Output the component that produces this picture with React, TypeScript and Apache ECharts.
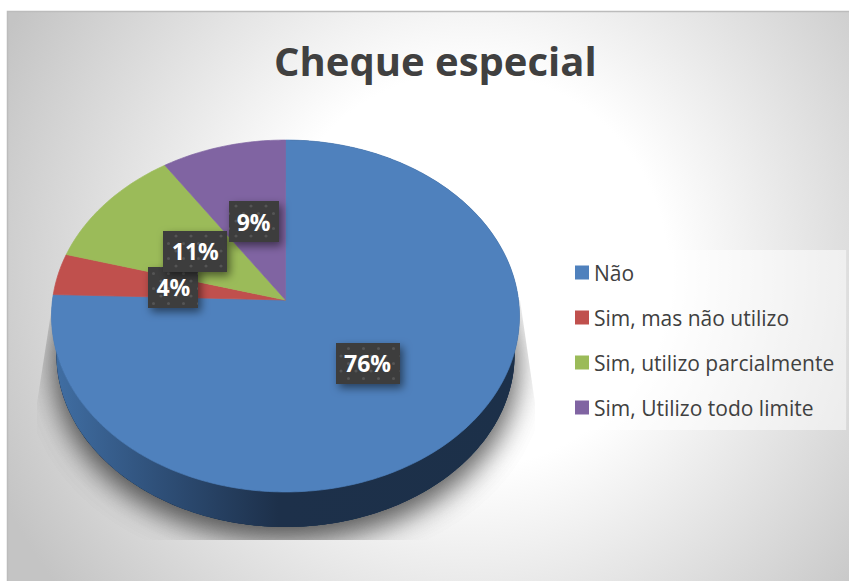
import React, { useEffect, useRef } from "react";
import * as echarts from "echarts";

const titleText = "Cheque especial";
const categories = ["Não", "Sim, mas não utilizo", "Sim, utilizo parcialmente", "Sim, Utilizo todo limite"];
const sliceValues = [75.5, 3.8, 11.3, 9.4];
const sliceColors = ["#4f81bd", "#c0504d", "#9bbb59", "#8064a2"];

const W = 849;
const H = 581;
const CX = 285.5;
const APEX_Y = 300;
const RX = 233;
const KY = 174.5;
const P = 0.0909;
const LOWER_SCALE = 0.979;
const LOWER_DROP = 39;
const LABEL_F = 0.49;

const total = sliceValues.reduce((a, b) => a + b, 0);

function project(theta: number, f = 1, scale = 1, drop = 0): number[] {
  const u = Math.sin(theta) * f;
  const v = -Math.cos(theta) * f;
  const d = 1 - P * v;
  return [CX + (scale * RX * u) / d, APEX_Y + drop + (scale * KY * v) / d];
}

function arcPoints(a0: number, a1: number, scale = 1, drop = 0): number[][] {
  const n = Math.max(2, Math.ceil(((a1 - a0) * 180) / Math.PI));
  const pts: number[][] = [];
  for (let k = 0; k <= n; k++) pts.push(project(a0 + ((a1 - a0) * k) / n, 1, scale, drop));
  return pts;
}

function makeDots(): HTMLCanvasElement {
  const c = document.createElement("canvas");
  c.width = 15;
  c.height = 15;
  const g = c.getContext("2d")!;
  g.fillStyle = "#3c3c3c";
  g.fillRect(0, 0, 15, 15);
  g.fillStyle = "#545454";
  for (const [x, y] of [[3.5, 3.5], [11, 11]]) {
    g.beginPath();
    g.arc(x, y, 1.6, 0, Math.PI * 2);
    g.fill();
  }
  return c;
}

export default function App() {
  const ref = useRef<HTMLDivElement>(null);
  useEffect(() => {
    document.body.style.margin = "0";
    const chart = echarts.init(ref.current!, undefined, { renderer: "svg" });
    const dots = makeDots();

    const series = categories.map((name, i) => {
      const before = sliceValues.slice(0, i).reduce((a, b) => a + b, 0);
      return {
        type: "custom",
        name,
        coordinateSystem: "none",
        itemStyle: { color: sliceColors[i] },
        silent: true,
        data: [[sliceValues[i]]],
        renderItem: (_p: any, api: any) => {
          const value = api.value(0) as number;
          const a0 = (before / total) * Math.PI * 2;
          const a1 = ((before + value) / total) * Math.PI * 2;
          const mid = (a0 + a1) / 2;
          const children: any[] = [];
          if (i === 0) {
            // Soft cast shadow and the visible wall: only the first slice faces the viewer.
            children.push({
              type: "group",
              clipPath: {
                type: "polygon",
                shape: { points: [[53, 300], [37, 403], [37, 540], [535, 540], [535, 403], [520, 300]] },
              },
              children: [
                {
                  type: "polygon",
                  shape: { points: arcPoints(0, Math.PI * 2, LOWER_SCALE, LOWER_DROP) },
                  style: {
                    fill: "#1c3049",
                    shadowColor: "rgba(0,0,0,0.42)",
                    shadowBlur: 30,
                    shadowOffsetX: 0,
                    shadowOffsetY: 11,
                  },
                },
                {
                  type: "polygon",
                  shape: { points: arcPoints(0, Math.PI * 2, LOWER_SCALE, LOWER_DROP) },
                  style: {
                    fill: "#1c3049",
                    shadowColor: "rgba(0,0,0,0.42)",
                    shadowBlur: 30,
                    shadowOffsetX: 0,
                    shadowOffsetY: 11,
                  },
                },
              ],
            });
            children.push({
              type: "polygon",
              z2: 1,
              shape: {
                points: arcPoints(a0, a1).concat(arcPoints(a0, a1, LOWER_SCALE, LOWER_DROP).reverse()),
              },
              style: {
                fill: new echarts.graphic.LinearGradient(
                  55, 0, 520, 0,
                  [
                    { offset: 0, color: "#406ea3" },
                    { offset: 0.22, color: "#2f5079" },
                    { offset: 0.48, color: "#1d304a" },
                    { offset: 1, color: "#1c3049" },
                  ],
                  true
                ),
              },
            });
          }
          children.push({
            type: "polygon",
            z2: 2,
            shape: { points: [[CX, APEX_Y], ...arcPoints(a0, a1)] },
            style: { fill: sliceColors[i], stroke: sliceColors[i], lineWidth: 0.7 },
          });
          const label = `${Math.round((value / total) * 100)}%`;
          const [lx, ly] = project(mid, LABEL_F);
          const bw = 22 + 14 * label.length;
          const bh = 41;
          children.push({
            type: "rect",
            z2: 100 + i,
            shape: { x: Math.round(lx - bw / 2), y: Math.round(ly - bh / 2), width: bw, height: bh },
            style: {
              fill: { image: dots, repeat: "repeat" },
              shadowColor: "rgba(0,0,0,0.5)",
              shadowBlur: 9,
              shadowOffsetX: 3,
              shadowOffsetY: 4,
            },
          });
          children.push({
            type: "text",
            z2: 200,
            style: {
              text: label,
              x: lx,
              y: ly,
              align: "center",
              verticalAlign: "middle",
              fill: "#ffffff",
              font: 'bold 23px "Open Sans"',
            },
          });
          return { type: "group", children };
        },
      };
    });

    chart.setOption({
      animation: false,
      title: {
        text: titleText,
        left: 274,
        top: 40,
        padding: 0,
        textStyle: { fontFamily: "Open Sans", fontWeight: "bold", fontSize: 40, color: "#404040" },
      },
      legend: {
        orient: "vertical",
        left: 563,
        top: 250,
        padding: [12, 12, 12, 12],
        itemWidth: 14,
        itemHeight: 14,
        itemGap: 24,
        icon: "rect",
        backgroundColor: "rgba(255,255,255,0.5)",
        data: categories,
        selectedMode: false,
        textStyle: { fontFamily: "Open Sans", fontSize: 21, color: "#404040", padding: [0, 0, 0, 0], lineHeight: 14 },
      },
      graphic: [
        {
          type: "rect",
          z: -10,
          silent: true,
          shape: { x: 7, y: 11, width: W - 7, height: H - 11 },
          style: {
            fill: new echarts.graphic.RadialGradient(
              470, 270, 520,
              [
                { offset: 0, color: "#ffffff" },
                { offset: 0.38, color: "#ffffff" },
                { offset: 1, color: "#c4c4c4" },
              ],
              true
            ),
          },
        },
        {
          type: "polyline",
          z: -9,
          silent: true,
          shape: { points: [[7.5, H], [7.5, 11.5], [W, 11.5]] },
          style: { stroke: "#bcbcbc", lineWidth: 1.5, fill: "none" },
        },
      ],
      series,
    });
    return () => chart.dispose();
  }, []);
  return <div ref={ref} style={{ width: W, height: H, position: "absolute", left: 0, top: 0 }} />;
}
